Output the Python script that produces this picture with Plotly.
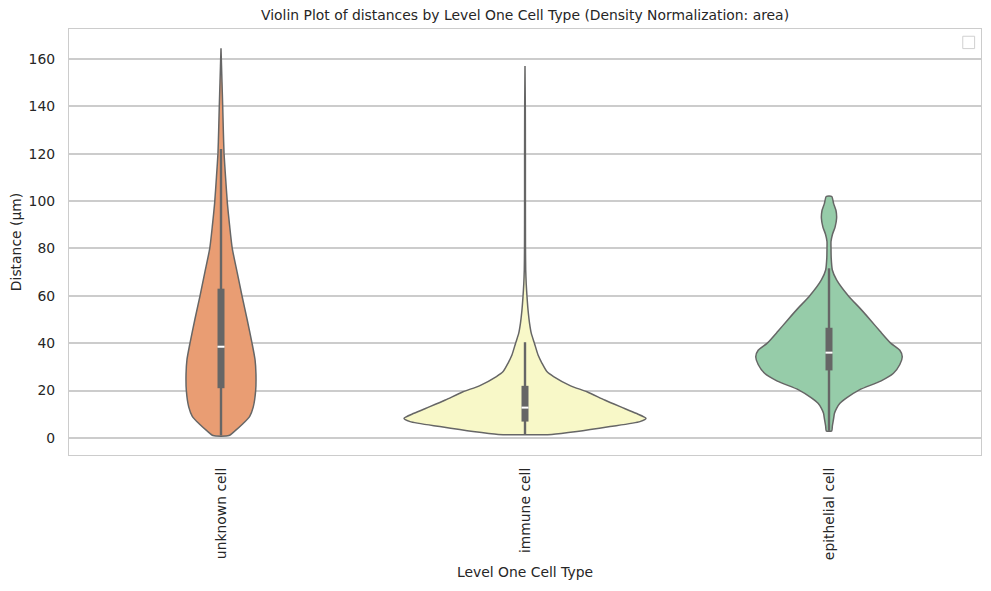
import plotly.graph_objects as go

# categories (x order) and colours
categories = ["unknown cell", "immune cell", "epithelial cell"]
colors = ["#E99D73", "#F8F8C8", "#96CCA9"]

# density outlines: distance levels and half-widths
# (half-width in units of category spacing)
unknown_y = [1, 3, 6, 9, 13, 20, 27, 33, 40, 50, 60, 70, 80, 90, 99, 110, 120, 130, 140, 150, 164.5]
unknown_w = [0.026, 0.046, 0.072, 0.094, 0.106, 0.114, 0.115, 0.112, 0.102, 0.086, 0.069, 0.053,
             0.037, 0.028, 0.021, 0.015, 0.010, 0.0076, 0.0056, 0.0033, 0.0]

immune_y = [1.5, 2.7, 4.8, 6.9, 8.3, 10.4, 13.2, 16, 19.5, 22, 25.9, 28, 31.5, 35, 40, 44,
            48.4, 54, 59.6, 65, 71, 80, 100, 120, 140, 157]
immune_w = [0.088, 0.171, 0.280, 0.378, 0.398, 0.365, 0.313, 0.262, 0.204, 0.150, 0.094, 0.072,
            0.056, 0.043, 0.031, 0.021, 0.015, 0.010, 0.0066, 0.004, 0.0023, 0.0016, 0.0013,
            0.0013, 0.001, 0.0]

epithelial_y = [3, 5, 8, 10.4, 12.5, 14.6, 17, 20.3, 24, 27.3, 31, 34.3, 37, 40, 45, 49.8, 55,
                59.6, 66.7, 70.9, 76, 80, 82.9, 86, 89, 92.7, 96, 99, 101.9]
epithelial_w = [0.009, 0.011, 0.015, 0.018, 0.025, 0.036, 0.059, 0.100, 0.170, 0.212, 0.233,
                0.241, 0.233, 0.203, 0.168, 0.136, 0.100, 0.066, 0.025, 0.011, 0.0072, 0.0066,
                0.0066, 0.0115, 0.020, 0.025, 0.023, 0.015, 0.009]

# inner box statistics
q1 = [21, 6.9, 28.5]
median = [38.5, 12.8, 36]
q3 = [63, 22, 46.5]
whisker_lo = [1, 1.5, 3]
whisker_hi = [122, 40.4, 71.6]

outlines = [(unknown_y, unknown_w), (immune_y, immune_w), (epithelial_y, epithelial_w)]

fig = go.Figure()

for i, (ys, ws) in enumerate(outlines):
    xs = [i + w for w in ws] + [i - w for w in reversed(ws)] + [i + ws[0]]
    yy = list(ys) + list(reversed(ys)) + [ys[0]]
    fig.add_trace(go.Scatter(
        x=xs, y=yy, mode="lines", fill="toself", fillcolor=colors[i],
        line=dict(color="#666666", width=1.5, shape="spline", smoothing=0.6),
        showlegend=False, hoverinfo="skip",
    ))
    # whisker
    fig.add_trace(go.Scatter(
        x=[i, i], y=[whisker_lo[i], whisker_hi[i]], mode="lines",
        line=dict(color="#666666", width=2.4), showlegend=False, hoverinfo="skip",
    ))
    # box
    fig.add_trace(go.Scatter(
        x=[i, i], y=[q1[i], q3[i]], mode="lines",
        line=dict(color="#666666", width=7), showlegend=False, hoverinfo="skip",
    ))
    # median
    fig.add_trace(go.Scatter(
        x=[i], y=[median[i]], mode="markers",
        marker=dict(symbol="line-ew-open", size=5, color="white",
                    line=dict(color="white", width=2)),
        showlegend=False, hoverinfo="skip",
    ))

font = dict(family="DejaVu Sans", size=13.9, color="#262626")

# page body adds an 8px offset, so the figure is 8px smaller than the window
fig.update_layout(
    width=983, height=583,
    margin=dict(l=61, r=10, t=21, b=136),
    paper_bgcolor="white", plot_bgcolor="white",
    font=font,
    title=dict(text="Violin Plot of distances by Level One Cell Type (Density Normalization: area)",
               x=0.526, xanchor="center", y=0.988, yanchor="middle", font=font),
    xaxis=dict(
        range=[-0.5, 2.5], tickvals=[0, 1, 2], ticktext=categories, tickangle=-90,
        showgrid=False, zeroline=False, showline=True, mirror=True,
        linecolor="#cccccc", linewidth=1.3, ticks="", ticklabelstandoff=6,
        automargin=False,
        title=dict(text="Level One Cell Type", font=font, standoff=8),
    ),
    yaxis=dict(
        range=[-7.2, 172.6], tickvals=[0, 20, 40, 60, 80, 100, 120, 140, 160],
        showgrid=True, gridcolor="#cccccc", gridwidth=1.8, zeroline=False,
        showline=True, mirror=True, linecolor="#cccccc", linewidth=1.3,
        ticks="", ticklabelstandoff=10, automargin=False,
        title=dict(text="Distance (µm)", font=font, standoff=12),
    ),
    shapes=[dict(type="rect", xref="paper", yref="paper",
                 x0=0.980, x1=0.993, y0=0.954, y1=0.983,
                 line=dict(color="#d0d0d0", width=1), fillcolor="white")],
)

fig.write_html("out.html")
